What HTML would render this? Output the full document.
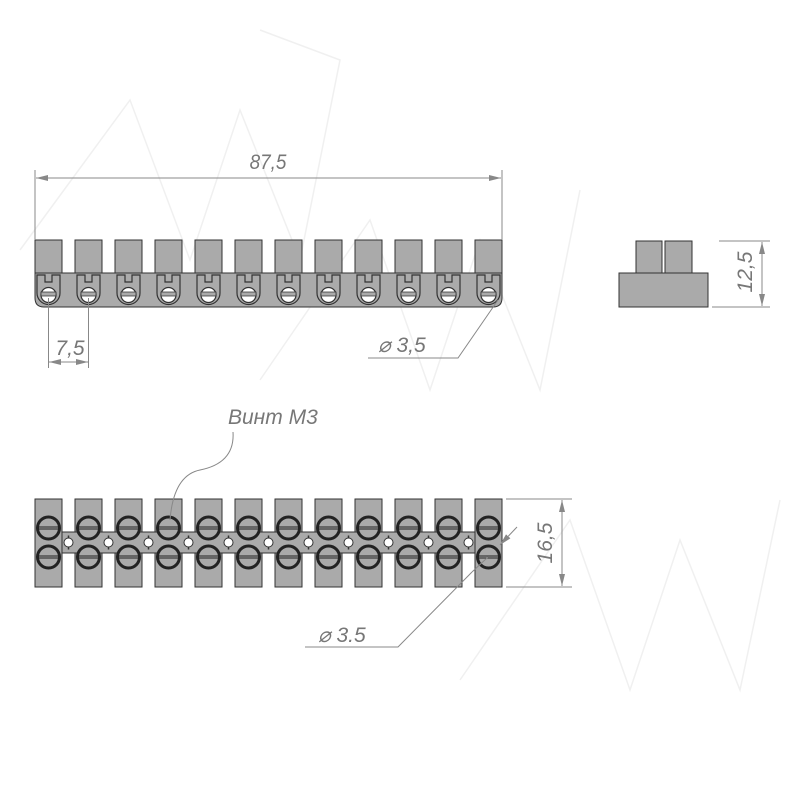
<!DOCTYPE html>
<html><head><meta charset="utf-8"><style>
html,body{margin:0;padding:0;background:#fff}
svg{display:block}
text{font-family:"Liberation Sans",sans-serif;fill:#777;font-style:italic}
</style></head><body>
<svg width="800" height="800" viewBox="0 0 800 800" xmlns="http://www.w3.org/2000/svg">
<defs>
<marker id="ar" markerWidth="12" markerHeight="6" refX="12" refY="3" orient="auto" markerUnits="userSpaceOnUse"><path d="M0,0 L12,3 L0,6 z" fill="#888"/></marker>
<g id="tb">
 <rect x="0" y="0" width="27" height="33" fill="#aaa" stroke="#333" stroke-width="1"/>
 <path d="M2,35 V53 A11.5,11.5 0 0 0 25,53 V35 H17 V42 H10 V35 Z" fill="#aaa" stroke="#333" stroke-width="1.2"/>
 <circle cx="13.5" cy="55" r="7.5" fill="#fff" stroke="#333" stroke-width="1.2"/>
 <path d="M6,52 H21 V56 H6z" fill="#aaa" stroke="#333" stroke-width="0.8"/>
</g>
<g id="bb">
 <rect x="0" y="0" width="27" height="88" fill="#aaa" stroke="#333" stroke-width="1"/>
</g>
<g id="sc">
 <circle cx="0" cy="0" r="11" fill="#aaa" stroke="#222" stroke-width="3"/>
 <path d="M-11,-1 H11 M-11,1 H11" stroke="#222" stroke-width="1"/>
</g>
<g id="hl">
 <circle cx="0" cy="0" r="4.5" fill="#fff" stroke="#333" stroke-width="1"/>
 <path d="M0,-7 V-4 M0,4 V7" stroke="#333" stroke-width="1.5"/>
</g>
</defs>

<!-- watermark -->
<g fill="none" stroke="#f0f0f0" stroke-width="1.5">
<path d="M20,250 L130,100 L190,260 L240,110 L300,260 L340,60 L260,30"/>
<path d="M260,380 L370,220 L430,390 L480,240 L540,390 L580,190"/>
<path d="M460,680 L570,520 L630,690 L680,540 L740,690 L780,500"/>
</g>

<!-- top view -->
<path d="M35,273 H502 V298 Q502,307 493,307 H44 Q35,307 35,298 Z" fill="#aaa" stroke="#333" stroke-width="1"/>
<g transform="translate(0,240)">
<use href="#tb" x="35"/><use href="#tb" x="75"/><use href="#tb" x="115"/><use href="#tb" x="155"/>
<use href="#tb" x="195"/><use href="#tb" x="235"/><use href="#tb" x="275"/><use href="#tb" x="315"/>
<use href="#tb" x="355"/><use href="#tb" x="395"/><use href="#tb" x="435"/><use href="#tb" x="475"/>
</g>
<g stroke="#888" stroke-width="1" fill="none">
<line x1="35" y1="240" x2="35" y2="170"/><line x1="502" y1="240" x2="502" y2="170"/>
<line x1="268" y1="178" x2="501" y2="178" marker-end="url(#ar)"/>
<line x1="268" y1="178" x2="36" y2="178" marker-end="url(#ar)"/>
<line x1="48.5" y1="298" x2="48.5" y2="368"/><line x1="88.5" y1="298" x2="88.5" y2="368"/>
<line x1="68" y1="362" x2="88" y2="362" marker-end="url(#ar)"/>
<line x1="68" y1="362" x2="49" y2="362" marker-end="url(#ar)"/>
<polyline points="368,358 458,358 498,300"/>
<line x1="719" y1="241" x2="770" y2="241"/><line x1="712" y1="307" x2="770" y2="307"/>
<line x1="762" y1="274" x2="762" y2="242" marker-end="url(#ar)"/>
<line x1="762" y1="274" x2="762" y2="306" marker-end="url(#ar)"/>
</g>
<text x="268" y="169" font-size="21" text-anchor="middle" transform="translate(268,0) scale(0.9,1) translate(-268,0)">87,5</text>
<text x="70" y="355" font-size="21" text-anchor="middle">7,5</text>
<text x="378" y="352" font-size="21">⌀ 3,5</text>
<text x="0" y="0" font-size="21" text-anchor="middle" transform="translate(752,272) rotate(-90)">12,5</text>

<!-- side view -->
<rect x="619" y="273" width="89" height="34" fill="#aaa" stroke="#333"/>
<rect x="636" y="241" width="26" height="32" fill="#aaa" stroke="#333"/>
<rect x="665" y="241" width="27" height="32" fill="#aaa" stroke="#333"/>

<!-- bottom view -->
<g transform="translate(0,499)">
<use href="#bb" x="35"/><use href="#bb" x="75"/><use href="#bb" x="115"/><use href="#bb" x="155"/>
<use href="#bb" x="195"/><use href="#bb" x="235"/><use href="#bb" x="275"/><use href="#bb" x="315"/>
<use href="#bb" x="355"/><use href="#bb" x="395"/><use href="#bb" x="435"/><use href="#bb" x="475"/>
</g>
<rect x="62" y="532" width="413" height="21" fill="#aaa" stroke="#333"/>
<g fill="#aaa">
<rect x="35.5" y="532.5" width="26" height="20"/><rect x="75.5" y="532.5" width="26" height="20"/><rect x="115.5" y="532.5" width="26" height="20"/><rect x="155.5" y="532.5" width="26" height="20"/><rect x="195.5" y="532.5" width="26" height="20"/><rect x="235.5" y="532.5" width="26" height="20"/><rect x="275.5" y="532.5" width="26" height="20"/><rect x="315.5" y="532.5" width="26" height="20"/><rect x="355.5" y="532.5" width="26" height="20"/><rect x="395.5" y="532.5" width="26" height="20"/><rect x="435.5" y="532.5" width="26" height="20"/><rect x="475.5" y="532.5" width="26" height="20"/>
</g>
<g>
<use href="#hl" x="68.5" y="542.5"/><use href="#hl" x="108.5" y="542.5"/><use href="#hl" x="148.5" y="542.5"/><use href="#hl" x="188.5" y="542.5"/><use href="#hl" x="228.5" y="542.5"/><use href="#hl" x="268.5" y="542.5"/><use href="#hl" x="308.5" y="542.5"/><use href="#hl" x="348.5" y="542.5"/><use href="#hl" x="388.5" y="542.5"/><use href="#hl" x="428.5" y="542.5"/><use href="#hl" x="468.5" y="542.5"/>
</g>
<g>
<use href="#sc" x="48.5" y="528"/><use href="#sc" x="88.5" y="528"/><use href="#sc" x="128.5" y="528"/><use href="#sc" x="168.5" y="528"/><use href="#sc" x="208.5" y="528"/><use href="#sc" x="248.5" y="528"/><use href="#sc" x="288.5" y="528"/><use href="#sc" x="328.5" y="528"/><use href="#sc" x="368.5" y="528"/><use href="#sc" x="408.5" y="528"/><use href="#sc" x="448.5" y="528"/><use href="#sc" x="488.5" y="528"/>
<use href="#sc" x="48.5" y="557"/><use href="#sc" x="88.5" y="557"/><use href="#sc" x="128.5" y="557"/><use href="#sc" x="168.5" y="557"/><use href="#sc" x="208.5" y="557"/><use href="#sc" x="248.5" y="557"/><use href="#sc" x="288.5" y="557"/><use href="#sc" x="328.5" y="557"/><use href="#sc" x="368.5" y="557"/><use href="#sc" x="408.5" y="557"/><use href="#sc" x="448.5" y="557"/><use href="#sc" x="488.5" y="557"/>
</g>
<g stroke="#888" stroke-width="1" fill="none">
<path d="M233,432 C235,462 210,468 200,470 C180,474 172,495 170,520"/>
<line x1="506" y1="499" x2="572" y2="499"/><line x1="506" y1="587" x2="572" y2="587"/>
<line x1="562" y1="543" x2="562" y2="500" marker-end="url(#ar)"/>
<line x1="562" y1="543" x2="562" y2="586" marker-end="url(#ar)"/>
<polyline points="305,647 398,647 472,572"/>
<line x1="472" y1="572" x2="488" y2="557"/>
<line x1="517" y1="527" x2="500" y2="545" marker-end="url(#ar)"/>
</g>
<text x="228" y="424" font-size="21">Винт М3</text>
<text x="318" y="642" font-size="21">⌀ 3.5</text>
<text x="0" y="0" font-size="21" text-anchor="middle" transform="translate(552,543) rotate(-90)">16,5</text>
</svg>
</body></html>
